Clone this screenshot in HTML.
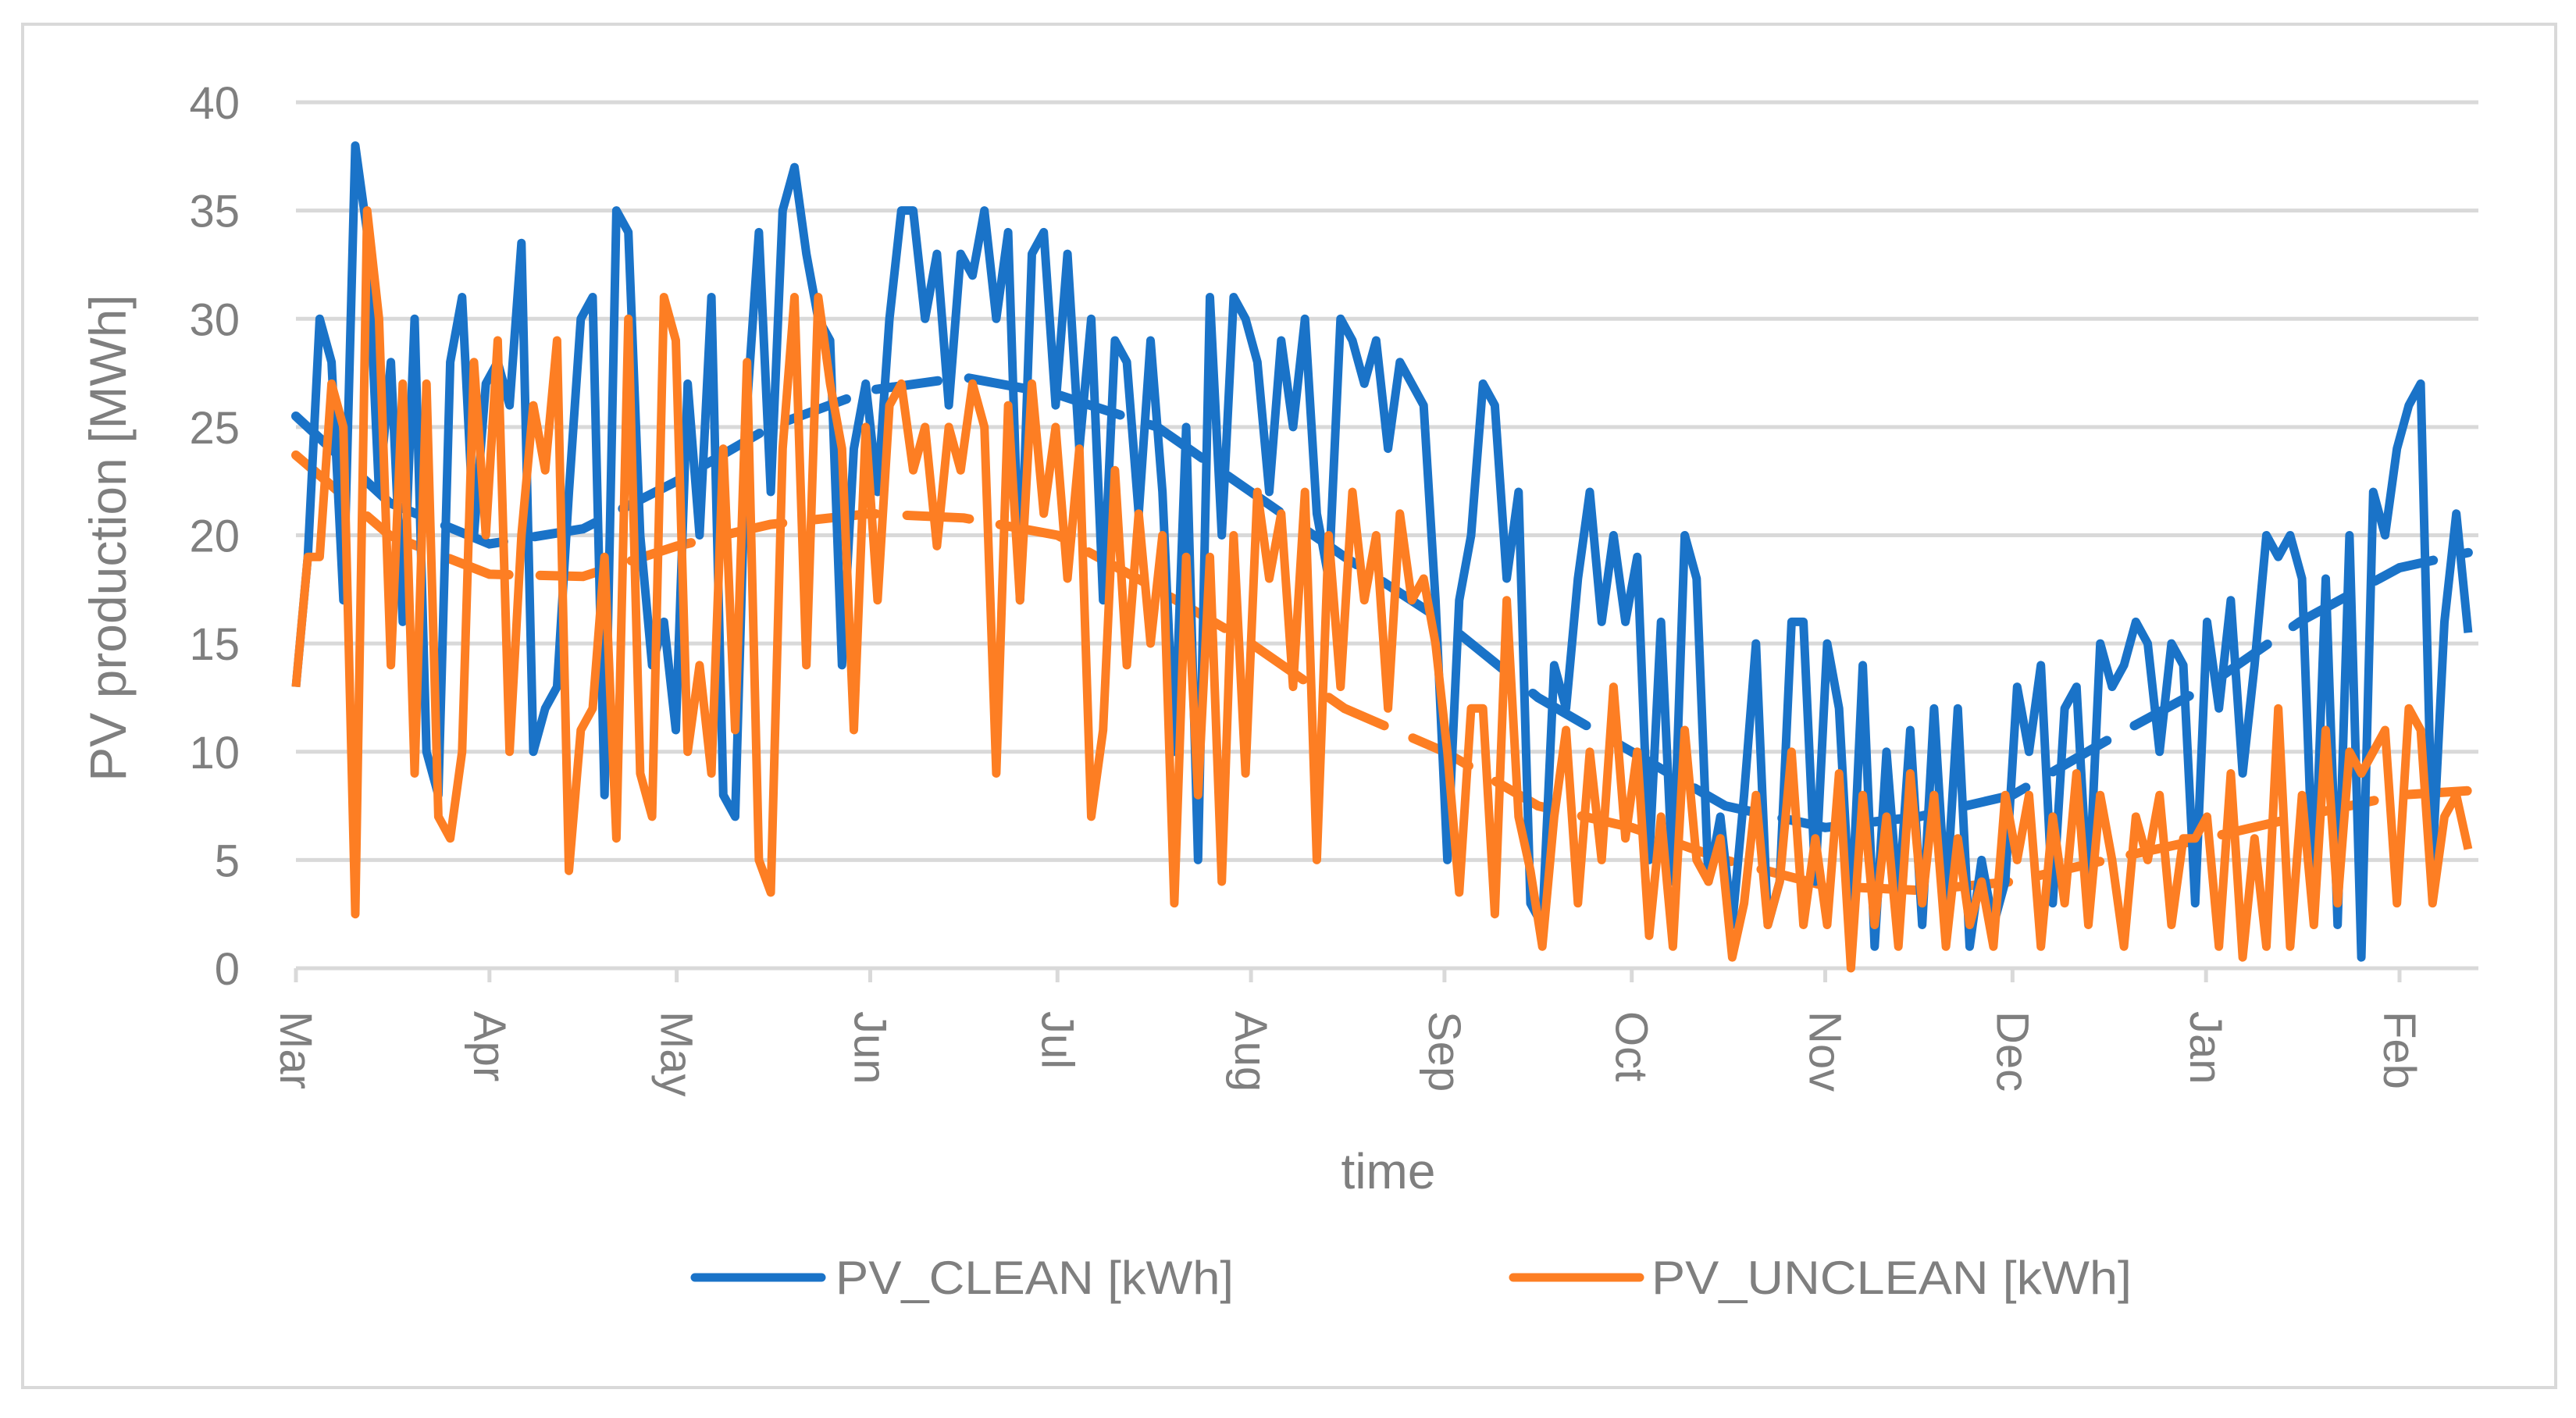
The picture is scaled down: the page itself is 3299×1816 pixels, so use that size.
<!DOCTYPE html>
<html><head><meta charset="utf-8"><style>
html,body{margin:0;padding:0;background:#fff;}
svg{display:block;font-family:"Liberation Sans",sans-serif;}
</style></head><body>
<svg id="chart" width="3299" height="1816" viewBox="0 0 3299 1816">
<rect x="29" y="31" width="3244" height="1746" fill="#fff" stroke="#d9d9d9" stroke-width="4"/>
<g id="grid"></g>
<g id="yticks"></g>
<g id="xticks"></g>
<g id="series"></g>
<text x="161" y="689" font-size="66" fill="#7f7f7f" text-anchor="middle" transform="rotate(-90 161 689)">PV production [MWh]</text>
<text x="1778" y="1522" font-size="64" fill="#7f7f7f" text-anchor="middle">time</text>
<g>
<g>
<line x1="890" y1="1636" x2="1052" y2="1636" stroke="#1a73c8" stroke-width="11" stroke-linecap="round"/>
<text x="1070" y="1657" font-size="60" fill="#7f7f7f" textLength="510" lengthAdjust="spacingAndGlyphs">PV_CLEAN [kWh]</text>
</g>
<g>
<line x1="1938" y1="1636" x2="2100" y2="1636" stroke="#fd7e23" stroke-width="11" stroke-linecap="round"/>
<text x="2115" y="1657" font-size="60" fill="#7f7f7f" textLength="615" lengthAdjust="spacingAndGlyphs">PV_UNCLEAN [kWh]</text>
</g>
</g>
</svg>
<script>
const yTicks=[0,5,10,15,20,25,30,35,40];
const monthLabels=["Mar","Apr","May","Jun","Jul","Aug","Sep","Oct","Nov","Dec","Jan","Feb"];
const monthDays=[0,31,61,92,122,153,184,214,245,275,306,337];
const lastDay=348;
const cleanValues=[13,19,30,28,17,38,34,22,28,16,30,10,8,28,31,20,
27,28,26,33.5,10,12,13,22,30,31,8,35,34,20,14,16,11,27,20,31,
8,7,26,34,22,35,37,33,30,29,14,24,27,22,30,35,
35,30,33,26,33,32,35,30,34,17,33,34,26,33,24,
30,17,29,28,21,29,22,10,25,5,31,20,31,30,28,22,
29,25,30,21,18,30,29,27,29,24,28,27,26,17,5,17,
20,27,26,18,22,3,2,14,12,18,22,16,20,16,19,
5,16,4,20,18,4,7,2,8,15,2,4,16,16,4,15,
12,2,14,1,10,3,11,2,12,3,12,1,5,2,4,
13,10,14,3,12,13,3,15,13,14,16,15,10,15,14,3,
16,12,17,9,14,20,19,20,18,3,18,2,20,0.5,22,20,
24,26,27,5,16,21,15.5];
const uncleanValues=[13,19,19,27,25,2.5,35,30,14,27,9,27,7,6,10,28,
20,29,10,20,26,23,29,4.5,11,12,19,6,30,9,7,31,29,10,14,9,
24,11,28,5,3.5,24,31,14,31,27,24,11,25,17,26,27,
23,25,19.5,25,23,27,25,9,26,17,27,21,25,18,24,
7,11,23,14,21,15,20,3,19,8,19,4,20,9,22,18,
21,13,22,5,20,13,22,17,20,12,21,17,18,15,10,3.5,
12,12,2.5,17,7,4.5,1,7,11,3,10,5,13,6,10,
1.5,7,1,11,5,4,6,0.5,3,8,2,4,10,2,6,2,
9,0,8,2,7,1,9,3,8,1,6,2,4,1,8,
5,8,1,7,3,9,2,8,5,1,7,5,8,2,6,6,
7,1,9,0.5,6,1,12,1,8,2,11,3,10,9,10,11,
3,12,11,3,7,8,5.5];
const trendDays=[0,15,31,46,61,76,92,107,122,138,153,168,184,199,214,229,245,260,275,290,306,321,337,348];
const trendClean=[25.5,21.5,19.6,20.3,22.5,25,26.7,27.3,26.5,25,22,19,16,12.5,10,7.5,6.5,7,8,10.5,13,16,18.5,19.2];
const trendUnclean=[23.7,20,18.2,18.1,19.5,20.5,21,20.8,20,17.5,15,12,10,7.5,6.5,5,3.8,3.6,4,5,6,7,8,8.2];

const X0=379,X1=3174,Y0=1240,Y40=131;
function xScale(d){return X0+d*(3073-X0)/337;}
function yScale(v){return Y0-v*(Y0-Y40)/40;}
const NS="http://www.w3.org/2000/svg";
function mk(tag,attrs,parent){const e=document.createElementNS(NS,tag);for(const k in attrs)e.setAttribute(k,attrs[k]);parent.appendChild(e);return e;}
const grid=document.getElementById('grid'),yt=document.getElementById('yticks'),xt=document.getElementById('xticks'),ser=document.getElementById('series');
yTicks.forEach(v=>{
  const l=mk('line',{x1:X0,x2:X1,y1:yScale(v),y2:yScale(v),stroke:'#d9d9d9','stroke-width':5},grid);
  
  
  const t=mk('text',{x:307,y:yScale(v)+21,'font-size':58,fill:'#7f7f7f','text-anchor':'end'},yt);
  t.textContent=v;
  
  
});
monthLabels.forEach((m,i)=>{
  const x=xScale(monthDays[i]);
  const tk=mk('line',{x1:x,x2:x,y1:Y0,y2:Y0+18,stroke:'#d9d9d9','stroke-width':5},xt);
  
  
  const t=mk('text',{x:x,y:1295,'font-size':58,fill:'#7f7f7f',transform:'rotate(90 '+x+' 1295)',dy:'20'},xt);
  t.textContent=m;
  
  
});
function seriesPath(vals){const n=vals.length;return vals.map((v,i)=>(i?'L':'M')+xScale(i*lastDay/(n-1)).toFixed(1)+' '+yScale(v).toFixed(1)).join(' ');}
function trendPath(days,vals){return vals.map((v,i)=>(i?'L':'M')+xScale(days[i]).toFixed(1)+' '+yScale(v).toFixed(1)).join(' ');}
const tc=mk('path',{d:trendPath(trendDays,trendClean),fill:'none',stroke:'#1a73c8','stroke-width':12,'stroke-dasharray':'80 40','stroke-linecap':'round'},ser);


const tu=mk('path',{d:trendPath(trendDays,trendUnclean),fill:'none',stroke:'#fd7e23','stroke-width':12,'stroke-dasharray':'80 40','stroke-linecap':'round'},ser);


const pc=mk('path',{d:seriesPath(cleanValues),fill:'none',stroke:'#1a73c8','stroke-width':11,'stroke-linejoin':'round'},ser);


const pu=mk('path',{d:seriesPath(uncleanValues),fill:'none',stroke:'#fd7e23','stroke-width':11,'stroke-linejoin':'round'},ser);


</script>
</body></html>
